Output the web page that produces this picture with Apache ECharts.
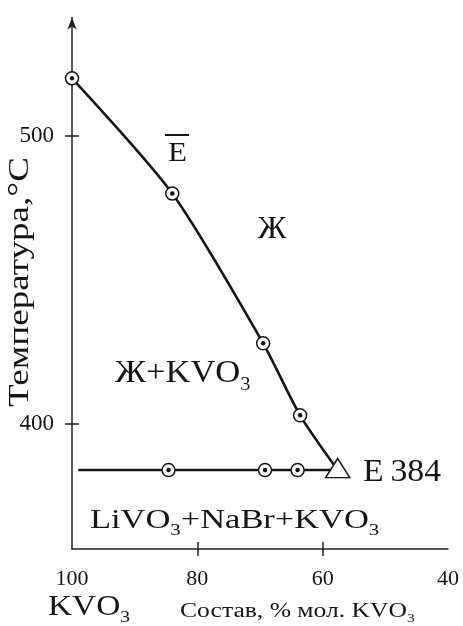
<!DOCTYPE html>
<html><head><meta charset="utf-8">
<script src="https://cdn.jsdelivr.net/npm/echarts@6/dist/echarts.min.js"></script>
<style>html,body{margin:0;padding:0;background:#fff}#c{width:463px;height:626px}</style>
</head><body><div id="c"></div>
<script>
// ---- data ----
const xTickLabels = [100, 80, 60, 40];
const xTicks = [80, 60];
const yTicks = [400, 500];
const liquidusX = [100, 84, 69.5, 63.6, 57.6];
const liquidusT = [520, 480, 428, 403, 384];
const liquidusObsX = [100, 84, 69.5, 63.6];
const liquidusObsT = [520, 480, 428, 403];
const solidusX = [99, 84.6, 69.2, 64.0, 57.6];
const solidusT = [384, 384, 384, 384, 384];
const solidusObsX = [84.6, 69.2, 64.0];
const solidusObsT = [384, 384, 384];
const eutecticX = [57.6];
const eutecticT = [384];

const FONT = 'Liberation Serif';
const INK = '#151515';
const pair = (xs, ys) => xs.map((x, i) => [x, ys[i]]);

function subText(parts, fs, lh) {
  return {
    text: parts.map(p => '{' + p[0] + '|' + p[1] + '}').join(''),
    rich: {
      m: { fontSize: fs, fontFamily: FONT, fill: INK, lineHeight: Math.round(fs * lh) },
      s: { fontSize: Math.round(fs * 0.6), fontFamily: FONT, fill: INK, verticalAlign: 'bottom' }
    }
  };
}
function txt(x, y, fs, sx, content, align, rot) {
  const st = typeof content === 'string'
    ? { text: content, fontSize: fs, fontFamily: FONT, fill: INK }
    : Object.assign({ fontSize: fs, fontFamily: FONT, fill: INK }, subText(content, fs, 1.32));
  st.align = align || 'left';
  st.verticalAlign = 'middle';
  return { type: 'text', x: x, y: y, scaleX: sx, rotation: rot || 0, z: 10, style: st };
}

const chart = echarts.init(document.getElementById('c'));
const axisStyle = { color: '#222', width: 1.5 };
const option = {
  animation: false,
  backgroundColor: '#fff',
  grid: { left: 72, right: 15, top: 17.5, bottom: 77, containLabel: false },
  xAxis: [
    { type: 'value', min: 40, max: 100, inverse: true, position: 'bottom',
      axisLine: { show: true, onZero: false, lineStyle: axisStyle },
      axisTick: { show: true, customValues: xTicks, length: 7, inside: false, lineStyle: axisStyle },
      axisLabel: { show: true, customValues: xTickLabels, fontFamily: FONT, fontSize: 22, color: INK, margin: 19 },
      splitLine: { show: false } },
    { type: 'value', min: 40, max: 100, inverse: true, position: 'top', offset: -531.5,
      axisLine: { show: false },
      axisTick: { show: true, customValues: xTicks, length: 7, inside: false, lineStyle: axisStyle },
      axisLabel: { show: false }, splitLine: { show: false } }
  ],
  yAxis: [
    { type: 'value', min: 356.6, max: 541.1, position: 'left',
      axisLine: { show: true, onZero: false, lineStyle: axisStyle, symbol: ['none', 'arrow'], symbolSize: [7, 12] },
      axisTick: { show: true, customValues: yTicks, length: 7, inside: false, lineStyle: axisStyle },
      axisLabel: { show: true, customValues: yTicks, fontFamily: FONT, fontSize: 23, color: INK, margin: 18 },
      splitLine: { show: false } },
    { type: 'value', min: 356.6, max: 541.1, position: 'right', offset: -376,
      axisLine: { show: false },
      axisTick: { show: true, customValues: yTicks, length: 7, inside: false, lineStyle: axisStyle },
      axisLabel: { show: false }, splitLine: { show: false } }
  ],
  series: [
    { type: 'line', name: 'liquidus', data: pair(liquidusX, liquidusT), smooth: 0.26, showSymbol: false, clip: false,
      lineStyle: { color: INK, width: 2.6 }, z: 2 },
    { type: 'line', name: 'solidus', data: pair(solidusX, solidusT), showSymbol: false, clip: false,
      lineStyle: { color: INK, width: 2.6 }, z: 2 },
    { type: 'scatter', name: 'rings', data: pair(liquidusObsX, liquidusObsT).concat(pair(solidusObsX, solidusObsT)),
      symbol: 'circle', symbolSize: 13, clip: false,
      itemStyle: { color: '#fff', borderColor: INK, borderWidth: 1.5, opacity: 1 }, z: 3 },
    { type: 'scatter', name: 'dots', data: pair(liquidusObsX, liquidusObsT).concat(pair(solidusObsX, solidusObsT)),
      symbol: 'circle', symbolSize: 4.5, clip: false, itemStyle: { color: INK, opacity: 1 }, z: 4 },
    { type: 'scatter', name: 'eutectic', data: pair(eutecticX, eutecticT), symbol: 'triangle', symbolSize: [24, 19],
      symbolOffset: [0, -2], clip: false,
      itemStyle: { color: '#fff', borderColor: INK, borderWidth: 1.5, opacity: 1 }, z: 5 }
  ],
  graphic: [
    txt(177.5, 154, 27, 1.15, 'E', 'center'),
    { type: 'line', z: 10, shape: { x1: 165, y1: 135, x2: 189, y2: 135 }, style: { stroke: INK, lineWidth: 2 } },
    txt(272, 230, 32, 1.0, 'Ж', 'center'),
    txt(115, 373.5, 32, 1.08, [['m', 'Ж+KVO'], ['s', '3']]),
    txt(363, 472.5, 31, 1.09, 'E\u2009384'),
    txt(90, 521, 28, 1.23, [['m', 'LiVO'], ['s', '3'], ['m', '+NaBr+KVO'], ['s', '3']]),
    txt(48, 607.5, 29, 1.15, [['m', 'KVO'], ['s', '3']]),
    txt(180, 612, 20, 1.28, [['m', 'Состав, % мол. KVO'], ['s', '3']]),
    txt(20, 282, 29, 1.28, 'Температура,°C', 'center', Math.PI / 2)
  ]
};
chart.setOption(option);
</script>
</body></html>
